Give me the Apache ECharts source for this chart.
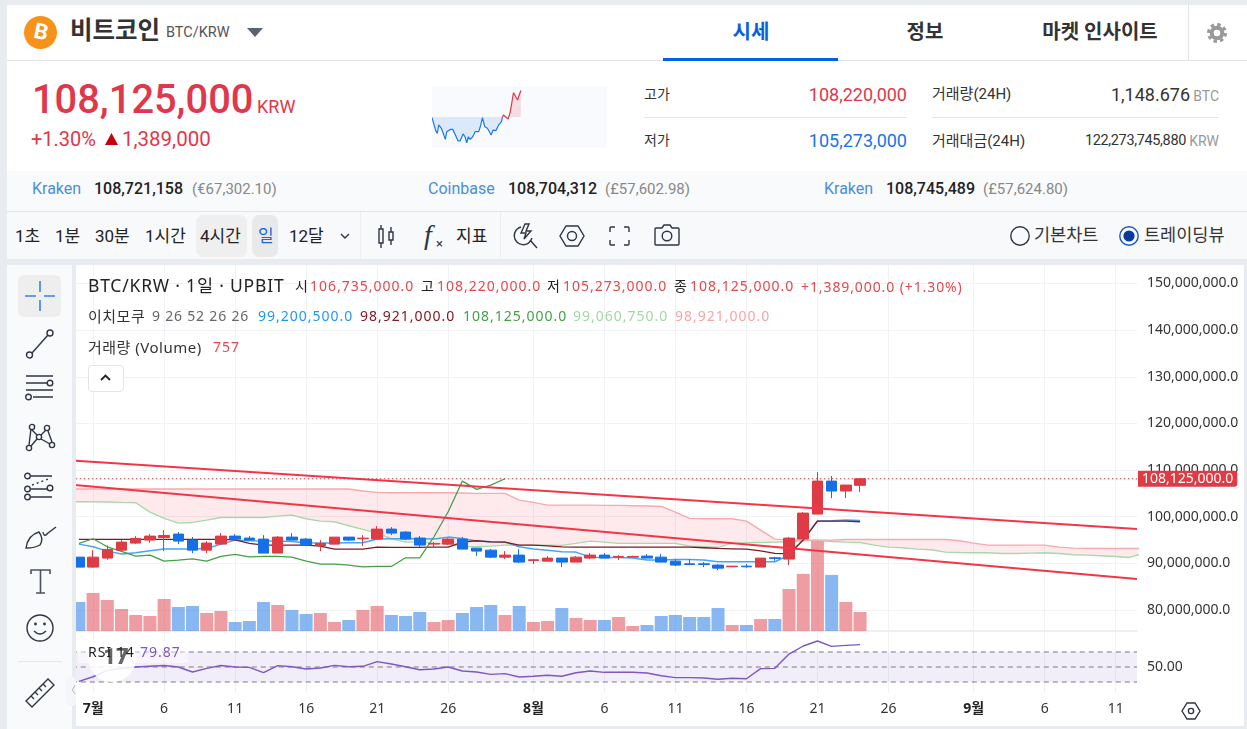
<!DOCTYPE html>
<html lang="ko"><head><meta charset="utf-8"><title>BTC/KRW</title>
<script src="https://cdn.jsdelivr.net/npm/echarts@6/dist/echarts.min.js"></script>
<style>
html,body{margin:0;padding:0;width:1247px;height:729px;overflow:hidden;background:#e8ecf1;font-family:Roboto,"Noto Sans CJK KR",sans-serif;color:#222}
.p{position:absolute}
#chart{position:absolute;left:0;top:0;width:1247px;height:729px;z-index:1}
.o{z-index:2}
.t{position:absolute;white-space:nowrap;line-height:1;transform:translateY(-50%);z-index:3}
.r{transform:translate(-100%,-50%)}
.c{transform:translate(-50%,-50%)}
.l{font-family:"Noto Sans","Noto Sans CJK KR",sans-serif;font-size:14px;letter-spacing:1px}
.k{font-size:15px;letter-spacing:.5px}
svg{position:absolute;z-index:3;overflow:visible}
svg *{fill:none;stroke:#2f3542;stroke-width:1.4}
#spark{position:absolute;left:432px;top:86px;width:175px;height:62px;z-index:3;background:#f9fafd}
</style></head><body>
<div class="p" style="left:76px;top:265px;width:1168px;height:461px;background:#fff"></div>
<div id="chart"></div>

<!-- page edges -->
<div class="p o" style="left:1244px;top:259px;width:3px;height:470px;background:#e8ecf1"></div>
<div class="p o" style="left:0;top:726px;width:1247px;height:3px;background:#e8ecf1"></div>
<div class="p o" style="left:0;top:259px;width:76px;height:470px;background:#e8ecf1"></div>
<div class="p o" style="left:7px;top:265px;width:65px;height:464px;background:#f9fafc"></div>
<div class="p o" style="left:66px;top:676px;width:10px;height:30px;background:#f4f6f9;border-radius:5px"></div>
<div class="p o" style="left:18px;top:275px;width:43px;height:42px;background:#eeeeee;border-radius:6px"></div>
<div class="p o" style="left:18px;top:661px;width:44px;height:1px;background:#e6e8ec"></div>

<!-- header panels -->
<div class="p o" style="left:7px;top:5px;width:1240px;height:55px;background:#fff"></div>
<div class="p o" style="left:7px;top:60px;width:1240px;height:1px;background:#dfe2e6"></div>
<div class="p o" style="left:7px;top:61px;width:1240px;height:110px;background:#fff"></div>
<div class="p o" style="left:7px;top:171px;width:1240px;height:40px;background:#f9fafb"></div>
<div class="p o" style="left:7px;top:211px;width:1240px;height:1px;background:#dfe2e6"></div>
<div class="p o" style="left:7px;top:212px;width:1240px;height:47px;background:#f8f9fb"></div>
<div class="p o" style="left:1188px;top:5px;width:1px;height:55px;background:#e3e5e8"></div>
<div class="p o" style="left:663px;top:58px;width:175px;height:3px;background:#0062df"></div>
<div class="p o" style="left:644px;top:117px;width:263px;height:1px;background:#e3e5e8"></div>
<div class="p o" style="left:932px;top:117px;width:287px;height:1px;background:#e3e5e8"></div>
<div class="p o" style="left:360px;top:212px;width:1px;height:47px;background:#eceef1"></div>
<div class="p o" style="left:500px;top:212px;width:1px;height:47px;background:#eceef1"></div>
<div class="p o" style="left:196px;top:215px;width:51px;height:42px;background:#efefef;border-radius:7px"></div>
<div class="p o" style="left:252px;top:215px;width:26px;height:42px;background:#e9e9ea;border-radius:7px"></div>

<!-- logo & title -->
<div class="p o" style="left:24px;top:16px;width:33px;height:33px;border-radius:50%;background:#f7931a"></div>
<div class="t c" style="left:41px;top:32px;color:#fff;font-size:22px;font-weight:700;transform:translate(-50%,-50%) rotate(12deg)">B</div>
<div class="t" style="left:70px;top:31px;font-size:24.500px;font-weight:700;color:#333">비트코인</div>
<div class="t" style="left:166px;top:33px;font-size:14.5px;color:#555">BTC/KRW</div>
<svg style="left:247px;top:28px" width="16" height="9"><path d="M0 0H16L8 9Z" style="fill:#5a6270;stroke:none"/></svg>
<div class="t c" style="left:751px;top:32px;font-size:20px;font-weight:700;color:#0a5fe0">시세</div>
<div class="t c" style="left:925px;top:32px;font-size:20px;font-weight:700;color:#333">정보</div>
<div class="t c" style="left:1100px;top:32px;font-size:20px;font-weight:700;color:#333">마켓 인사이트</div>
<svg style="left:1207px;top:23px" width="20" height="20"><circle cx="10" cy="10" r="5.300" style="stroke:#999;stroke-width:4"/><circle cx="10" cy="10" r="8.500" style="stroke:#999;stroke-width:3;stroke-dasharray:3.500 3.170"/></svg>

<!-- price -->
<div class="t" style="left:32px;top:100px;font-size:39.800px;font-weight:500;color:#e0374a">108,125,000</div>
<div class="t" style="left:257px;top:107px;font-size:18px;color:#e0374a">KRW</div>
<div class="t" style="left:31px;top:139px;font-size:20px;color:#e0374a">+1.30%</div>
<svg style="left:105px;top:133px" width="13" height="12"><path d="M6.5 0L13 12H0Z" style="fill:#c8000a;stroke:none"/></svg>
<div class="t" style="left:122px;top:139px;font-size:20.500px;color:#e0374a">1,389,000</div>
<div id="spark"></div>
<div class="t" style="left:644px;top:94px;font-size:14px;color:#333">고가</div>
<div class="t r" style="left:907px;top:95px;font-size:18px;color:#e0374a">108,220,000</div>
<div class="t" style="left:644px;top:140px;font-size:14px;color:#333">저가</div>
<div class="t r" style="left:907px;top:141px;font-size:18px;color:#1a73e8">105,273,000</div>
<div class="t" style="left:932px;top:94px;font-size:15px;color:#333">거래량(24H)</div>
<div class="t r" style="left:1190px;top:95px;font-size:18px;color:#333">1,148.676</div>
<div class="t r" style="left:1219px;top:96px;font-size:14px;color:#999">BTC</div>
<div class="t" style="left:932px;top:141px;font-size:15px;color:#333">거래대금(24H)</div>
<div class="t r" style="left:1186px;top:141px;font-size:14.5px;letter-spacing:-.35px;color:#333">122,273,745,880</div>
<div class="t r" style="left:1219px;top:141px;font-size:14px;color:#999">KRW</div>

<!-- exchanges -->
<div class="t" style="left:32px;top:189px;font-size:16px;color:#4a8fd8">Kraken</div>
<div class="t" style="left:94px;top:189px;font-size:16px;font-weight:500;color:#222">108,721,158</div>
<div class="t" style="left:192px;top:189px;font-size:15px;color:#888">(€67,302.10)</div>
<div class="t" style="left:428px;top:189px;font-size:16px;color:#4a8fd8">Coinbase</div>
<div class="t" style="left:508px;top:189px;font-size:16px;font-weight:500;color:#222">108,704,312</div>
<div class="t" style="left:605px;top:189px;font-size:15px;color:#888">(£57,602.98)</div>
<div class="t" style="left:824px;top:189px;font-size:16px;color:#4a8fd8">Kraken</div>
<div class="t" style="left:886px;top:189px;font-size:16px;font-weight:500;color:#222">108,745,489</div>
<div class="t" style="left:983px;top:189px;font-size:15px;color:#888">(£57,624.80)</div>

<!-- toolbar -->
<div class="t" style="left:15px;top:236px;font-size:17px;color:#222">1초</div>
<div class="t" style="left:55px;top:236px;font-size:17px;color:#222">1분</div>
<div class="t" style="left:95px;top:236px;font-size:17px;color:#222">30분</div>
<div class="t" style="left:145px;top:236px;font-size:17px;color:#222">1시간</div>
<div class="t" style="left:200px;top:236px;font-size:17px;color:#222">4시간</div>
<div class="t" style="left:258px;top:236px;font-size:17px;color:#1a66d9">일</div>
<div class="t" style="left:289px;top:236px;font-size:17px;color:#222">12달</div>
<svg style="left:340px;top:233px" width="10" height="6"><path d="M1 1L5 5L9 1"/></svg>
<svg style="left:376px;top:224px" width="20" height="24"><path d="M3 5H7V19H3ZM5 1V5M5 19V24M13 8H17V16H13ZM15 3V8M15 16V21"/></svg>
<div class="t" style="left:424px;top:235px;font-size:28px;font-family:'Liberation Serif';font-style:italic;color:#2f3542">f</div>
<div class="t" style="left:436px;top:243px;font-size:13px;color:#2f3542">×</div>
<div class="t" style="left:456px;top:236px;font-size:17px;color:#222">지표</div>
<svg style="left:513px;top:223px" width="24" height="26"><path d="M8 4A9 9 0 1 0 19 15M17 17L24 25M12 1L8 10H13L11 16L18 8H13L16 1Z"/></svg>
<svg style="left:559px;top:225px" width="26" height="22"><path d="M7 1H19L25 11L19 21H7L1 11Z"/><circle cx="13" cy="11" r="4.5"/></svg>
<svg style="left:609px;top:226px" width="21" height="20"><path d="M1 6V2Q1 1 2 1H6M15 1H19Q20 1 20 2V6M20 14V18Q20 19 19 19H15M6 19H2Q1 19 1 18V14"/></svg>
<svg style="left:654px;top:224px" width="26" height="22"><path d="M2 4H8L10 1H16L18 4H24Q25 4 25 5V20Q25 21 24 21H2Q1 21 1 20V5Q1 4 2 4Z"/><circle cx="13" cy="12" r="4.8"/></svg>
<svg style="left:1010px;top:226px" width="20" height="20"><circle cx="10" cy="10" r="9.2"/></svg>
<div class="t" style="left:1034px;top:236px;font-size:17.500px;color:#333">기본차트</div>
<svg style="left:1119px;top:226px" width="20" height="20"><circle cx="10" cy="10" r="9.2" style="stroke:#1a56c4"/><circle cx="10" cy="10" r="5.6" style="fill:#0a3a9a;stroke:none"/></svg>
<div class="t" style="left:1144px;top:236px;font-size:17.500px;color:#333">트레이딩뷰</div>

<!-- left tools -->
<svg style="left:25px;top:281px" width="30" height="30"><path d="M15 0V11M15 19V30M0 15H11M19 15H30" style="stroke:#3b82e6;stroke-width:1.6"/></svg>
<svg style="left:26px;top:329px" width="28" height="30"><circle cx="3.5" cy="26" r="3"/><circle cx="24" cy="4" r="3"/><path d="M6 24L22 6"/></svg>
<svg style="left:24px;top:375px" width="31" height="28"><path d="M2 1H29M2 8H23M2 15H29M9 22H29"/><circle cx="26" cy="8" r="2.8"/><circle cx="4.5" cy="22" r="2.8"/></svg>
<svg style="left:26px;top:424px" width="29" height="28"><circle cx="6" cy="3" r="2.6"/><circle cx="21" cy="4" r="2.6"/><circle cx="13" cy="13" r="2.6"/><circle cx="3" cy="24" r="2.6"/><circle cx="26" cy="21" r="2.6"/><path d="M5 5L3 21M6 6L11 11M15 11L20 6M22 7L26 18M5 22L11 15M15 15L24 20"/></svg>
<svg style="left:24px;top:473px" width="31" height="28"><circle cx="3.5" cy="3" r="2.8"/><circle cx="3.5" cy="16" r="2.8"/><circle cx="3.5" cy="24" r="2.8"/><circle cx="26" cy="15" r="2.8"/><path d="M7 3H28M7 16H23M7 24H28"/><path d="M8 12L27 5" style="stroke-dasharray:2 3"/></svg>
<svg style="left:25px;top:523px" width="32" height="26"><path d="M1 25Q3 12 14 9Q19 16 15 22Q10 25 1 25ZM18 9Q19 15 23 10L31 4"/></svg>
<svg style="left:31px;top:569px" width="20" height="25"><path d="M0 5V1H19V5M9.500 1V24M5 24H14" style="stroke:#4a5160;stroke-width:1.6"/></svg>
<svg style="left:26px;top:614px" width="28" height="28"><circle cx="14" cy="14" r="13"/><path d="M8 17Q14 23 20 17"/><circle cx="9.500" cy="10" r=".7"/><circle cx="18.500" cy="10" r=".7"/></svg>
<svg style="left:25px;top:678px" width="30" height="30"><path d="M1 23L23 1L29 7L7 29ZM6 18L9 21M10 14L13 17M14 10L17 13M18 6L21 9"/></svg>
<div class="t c" style="left:71px;top:691px;font-size:10px;color:#aaa">〈</div>

<!-- chart legend -->
<div class="t" style="left:88px;top:286px;font-size:17.500px;letter-spacing:.8px;font-family:'Noto Sans','Noto Sans CJK KR';color:#222">BTC/KRW · 1일 · UPBIT</div>
<div class="t l" style="left:295px;top:286px">시</div><div class="t l" style="left:310px;top:286px;color:#e5484d">106,735,000.0</div>
<div class="t l" style="left:421px;top:286px">고</div><div class="t l" style="left:437px;top:286px;color:#e5484d">108,220,000.0</div>
<div class="t l" style="left:547px;top:286px">저</div><div class="t l" style="left:563px;top:286px;color:#e5484d">105,273,000.0</div>
<div class="t l" style="left:674px;top:286px">종</div><div class="t l" style="left:690px;top:286px;color:#e5484d">108,125,000.0</div>
<div class="t l" style="left:801px;top:287px;color:#e5484d;letter-spacing:.9px">+1,389,000.0 (+1.30%)</div>
<div class="t l k" style="left:88px;top:316px;color:#333">이치모쿠</div>
<div class="t l" style="left:152px;top:316px;color:#666;letter-spacing:.8px">9 26 52 26 26</div>
<div class="t l" style="left:258px;top:316px;color:#2196f3">99,200,500.0</div>
<div class="t l" style="left:360px;top:316px;color:#801922">98,921,000.0</div>
<div class="t l" style="left:463px;top:316px;color:#43a047">108,125,000.0</div>
<div class="t l" style="left:573px;top:316px;color:#a5d6a7">99,060,750.0</div>
<div class="t l" style="left:675px;top:316px;color:#f7a5a5">98,921,000.0</div>
<div class="t l k" style="left:88px;top:347px;color:#333">거래량 (Volume)</div>
<div class="t l" style="left:213px;top:347px;color:#e5484d">757</div>
<div class="p" style="z-index:3;left:88px;top:365px;width:34px;height:25px;border:1px solid #e2e4e8;border-radius:4px;background:#fff"></div>
<svg style="left:100px;top:374px" width="11" height="7"><path d="M1 6L5.500 1.500L10 6" style="stroke:#222;stroke-width:1.8"/></svg>

<!-- RSI legend & watermark -->
<div class="p" style="z-index:2;left:78px;top:641px;width:110px;height:22px;background:rgba(255,255,255,.45)"></div>
<div class="p" style="z-index:2;left:88px;top:634px;width:48px;height:48px;border-radius:50%;background:rgba(255,255,255,.88)"></div>
<div class="t c" style="left:116px;top:657px;font-size:22px;font-weight:900;color:#666">17</div>
<div class="t l" style="left:88px;top:652px;color:#222">RSI 14</div>
<div class="t l" style="left:140px;top:652px;color:#7e57c2">79.87</div>
<svg style="left:1182px;top:702px" width="18" height="18"><path d="M5 1H13L18 9L13 17H5L0 9Z"/><circle cx="9" cy="9" r="2.6"/></svg>

<script>
// Trading days, first visible bar = 30 June
const categories = ['6/30','7/1','7/2','7/3','7/4','7/5','7/6','7/7','7/8','7/9','7/10','7/11','7/12','7/13','7/14','7/15','7/16','7/17','7/18','7/19','7/20','7/21','7/22','7/23','7/24','7/25','7/26','7/27','7/28','7/29','7/30','7/31','8/1','8/2','8/3','8/4','8/5','8/6','8/7','8/8','8/9','8/10','8/11','8/12','8/13','8/14','8/15','8/16','8/17','8/18','8/19','8/20','8/21','8/22','8/23','8/24','8/25','8/26','8/27','8/28','8/29','8/30','8/31','9/1','9/2','9/3','9/4','9/5','9/6','9/7','9/8','9/9','9/10','9/11','9/12'];
const tickDays = ['1','6','11','16','21','26'];
const priceTicks = [80,90,100,110,120,130,140,150];
const rsiTicks = [50];
const rsiLevels = [30,50,70];

// Prices in million KRW
const opens  = [91.33,89.19,91.12,92.83,94.34,94.98,95.55,96.27,94.98,92.83,94.12,95.84,95.41,95.2,92.19,95.62,95.2,93.84,94.12,95.62,95.27,95.2,97.34,96.7,95.41,94.12,94.12,95.2,93.26,92.83,91.33,91.76,90.62,90.47,91.12,90.26,91.12,91.76,91.33,91.33,91.55,91.33,90.47,89.9,89.9,89.62,89.26,89.4,89.19,91.19,90.91,95.2,100.56,107.64,105.5,106.735];
const closes = [89.19,91.33,92.98,94.55,95.34,95.84,95.98,94.77,92.83,94.34,95.84,95.2,94.98,92.19,95.62,94.98,93.91,94.27,95.62,94.98,95.41,97.34,96.48,95.2,93.91,94.27,95.2,93.05,92.62,91.33,91.76,90.26,90.76,91.12,90.26,91.33,91.76,91.12,91.48,91.48,91.12,90.26,89.62,89.76,89.76,88.97,89.4,89.26,91.12,91.05,95.41,100.77,107.64,105.5,106.78,108.125];
const lows   = [89.19,89.04,90.76,92.62,94.12,94.41,92.62,94.12,92.19,92.19,94.12,95.2,94.91,92.19,92.19,94.98,93.69,92.62,94.12,94.77,93.69,95.2,96.05,94.98,93.48,93.48,93.91,93.05,91.62,91.12,90.91,90.05,89.83,90.47,89.19,90.26,90.91,91.12,90.69,91.26,91.12,90.26,89.4,89.62,89.19,88.54,89.26,89.04,89.19,90.55,89.62,95.2,100.56,103.99,103.99,105.273];
const highs  = [91.33,92.83,93.84,94.98,95.84,96.27,97.13,96.7,95.62,94.77,96.48,96.27,95.84,96.05,95.84,96.48,95.41,94.98,95.62,95.62,96.05,97.99,97.77,96.91,95.84,94.55,95.41,95.62,93.26,93.05,92.62,93.05,90.91,91.55,91.12,91.55,92.19,92.19,91.76,91.62,91.98,91.98,90.91,90.91,90.26,89.83,89.4,89.83,91.12,91.4,95.62,100.99,109.57,108.71,106.78,108.22];
const volumes = [1155,1514,1235,876,637,598,1275,956,996,717,797,359,398,1155,1036,837,677,717,359,438,837,996,637,598,757,359,438,717,956,1036,637,996,359,398,916,518,438,438,558,199,239,598,637,558,558,916,239,239,478,478,1673,2271,3625,2231,1155,757];
const lastClose = 108.125;

// Ichimoku lines
const tenkan = [94.12,93.55,92.62,91.98,92.26,92.69,93.05,93.05,93.05,93.19,94.12,94.98,94.84,94.77,94.77,94.69,94.41,94.34,94.34,94.41,94.41,95.2,95.27,95.27,95.34,95.2,95.62,95.34,94.77,94.62,94.55,93.55,93.05,92.83,92.48,92.41,91.33,91.26,91.26,91.12,90.69,90.69,90.83,90.83,90.69,90.33,90.33,90.33,90.33,90.33,91.76,95.12,99.06,99.13,99.27,99.2];
const kijun = [95.12,95.12,95.12,95.12,95.12,95.12,95.12,95.12,95.12,95.12,95.12,95.05,94.27,93.91,93.91,93.91,93.91,93.69,93.05,93.05,93.05,93.48,93.41,93.41,93.41,93.48,93.48,94.55,94.84,94.62,94.55,93.91,93.91,93.76,93.55,93.48,93.48,93.48,93.48,93.48,93.48,93.48,93.48,93.48,93.34,93.19,93.12,93.05,92.69,92.12,92.05,94.98,99.06,99.06,99.06,98.92];
const chikou = [94.27,95.27,93.55,92.55,91.55,91.76,90.47,90.69,90.97,90.47,91.48,91.91,91.4,91.48,91.48,91.33,90.47,89.83,89.83,89.62,89.26,89.33,89.33,91.19,91.19,95.7,101.06,107.64,105.85,106.78,108.13];
// Cloud spans run from one slot before the first bar to one slot past the last
const senkouA = [103.21,103.21,103.21,103.14,103.06,102.99,100.99,99.63,98.63,98.77,99.27,99.84,99.84,99.84,99.84,100.13,100.35,99.56,99.06,98.91,98.06,97.27,96.48,95.27,94.55,94.55,94.27,94.12,93.62,93.55,93.69,93.91,93.91,93.91,93.91,93.84,94.27,94.77,94.55,94.27,94.27,94.27,94.27,94.27,93.69,93.55,93.41,94.27,94.41,94.48,94.55,94.62,94.84,94.98,94.69,94.55,94.48,93.91,93.48,93.34,93.05,92.91,92.41,92.33,92.26,92.26,92.12,92.12,92.19,92.26,92.12,91.83,91.76,91.62,91.48,91.26,92.26];
const senkouB = [105.93,105.93,105.93,105.93,105.93,105.93,105.93,105.93,105.93,105.93,105.93,105.93,105.93,105.93,105.93,105.93,105.93,105.93,105.93,105.93,105.93,105.5,105.21,105.14,105.14,105.14,105.14,105.14,105.07,105.0,105.0,105.0,103.56,103.06,102.49,102.49,102.49,102.49,102.42,102.42,102.35,102.28,102.2,100.99,99.63,99.56,99.56,99.56,99.06,97.13,95.2,94.98,94.98,94.98,94.98,95.12,95.12,95.12,95.12,95.12,95.12,95.12,95.12,94.84,94.34,93.91,93.91,93.91,93.91,93.91,93.48,93.26,93.19,93.19,93.19,93.19,93.19];

// Two drawn trend lines: [bar slot, price]
const trendUpper = [[-0.5,112.06],[74.5,97.38]];
const trendLower = [[-0.5,106.87],[74.5,86.65]];

const rsi = [30.9,37,45.5,48,50,51,52,50,43.3,48.2,52,50,49.5,42.4,51.8,50.4,47.3,48.7,52.2,50.4,50.9,57.1,54,50.4,46.4,47.3,50,44.7,43.3,40.2,41.1,36.7,37.6,38.9,37.6,42.4,44.7,42.9,42.9,42.9,42,38.4,35.8,35.8,35.3,33.6,34.9,34.4,47.8,48.2,67.3,78,84.7,77.5,78.9,79.87];

// Mini chart: hours into the day and price (million KRW)
const sparkHours = [0,.23,.5,.73,.92,1.28,1.51,1.83,2.02,2.29,2.56,2.84,3.21,3.57,3.85,4.26,4.53,4.76,4.99,5.22,5.59,5.91,6.41,6.69,6.92,7.24,7.6,7.83,8.11,8.38,8.75,9.16,9.53,9.66,9.8,10.03,10.44,10.72,10.99,11.18,11.45,11.73,12.18];
const sparkPrices = [106.70,106.37,105.96,105.80,106.28,106.09,105.84,105.46,105.90,105.96,106.03,106.03,105.71,105.37,105.37,105.77,105.61,105.27,105.61,105.46,105.61,105.90,105.90,106.28,106.70,106.18,106.09,106.13,105.71,105.99,105.96,106.28,106.47,106.735,106.85,106.95,106.62,107.0,107.10,108.12,108.05,107.70,108.24];
const sparkOpen = 106.735;

const RED='#de3b45', BLUE='#1470e6', FONT='"Noto Sans","Noto Sans CJK KR",sans-serif';
const GRIDLINE='#f0f2f5';
const fmtPrice=v=>(v*1e6).toLocaleString('en-US')+'.0';
const tickFn=(i,v)=>tickDays.includes(String(v).split('/')[1]);
const fmtX=v=>{const [m,d]=v.split('/');return d==='1'?'{m|'+m+'월}':d;};
const plotLeft=71.8, plotW=1065.2;
const spanEnds=[-0.5,74.5];

const line=(name,data,color,xi,z,w)=>({name,type:'line',data,xAxisIndex:xi,yAxisIndex:0,symbol:'none',z,silent:true,animation:false,lineStyle:{color,width:w||1.4}});
const slots=a=>a.map((v,i)=>[i-1,v]);

const chart=echarts.init(document.getElementById('chart'),null,{renderer:'canvas'});
chart.setOption({
  animation:false,
  backgroundColor:'transparent',
  grid:[{left:plotLeft,top:265,width:plotW,height:366},{left:plotLeft,top:631,width:plotW,height:62}],
  xAxis:[
    {type:'category',gridIndex:0,data:categories,boundaryGap:true,
     axisLine:{show:true,lineStyle:{color:'#e8ebf0',width:1.5}},axisTick:{show:false},axisLabel:{show:false},
     splitLine:{show:true,interval:tickFn,alignWithLabel:true,lineStyle:{color:GRIDLINE}}},
    {type:'value',gridIndex:0,min:-0.5,max:74.5,show:false},
    {type:'category',gridIndex:1,data:categories,boundaryGap:true,
     axisLine:{show:false},axisTick:{show:false},
     axisLabel:{interval:tickFn,formatter:fmtX,margin:9,fontFamily:FONT,fontSize:14,color:'#333',rich:{m:{fontFamily:FONT,fontSize:14,fontWeight:'bold',color:'#222'}}},
     splitLine:{show:true,interval:tickFn,alignWithLabel:true,lineStyle:{color:GRIDLINE}}},
    {type:'value',gridIndex:1,min:-0.5,max:74.5,show:false}
  ],
  yAxis:[
    {type:'value',gridIndex:0,position:'right',min:75.49,max:153.97,
     axisLine:{show:false},axisTick:{show:false,customValues:priceTicks},
     axisLabel:{customValues:priceTicks,margin:10,padding:[0,0,3,0],fontFamily:FONT,fontSize:14,color:'#333',formatter:fmtPrice},
     splitLine:{show:true,lineStyle:{color:GRIDLINE}}},
    {type:'value',gridIndex:0,position:'right',min:0,max:14567,show:false,splitLine:{show:false}},
    {type:'value',gridIndex:1,position:'right',min:15.33,max:98,
     axisLine:{show:false},axisTick:{show:false,customValues:rsiTicks},
     axisLabel:{customValues:rsiTicks,margin:10,fontFamily:FONT,fontSize:14,color:'#333',formatter:v=>v.toFixed(2)},
     splitLine:{show:false}}
  ],
  series:[
    {name:'거래량',type:'bar',xAxisIndex:0,yAxisIndex:1,barWidth:13,z:1,silent:true,
     data:volumes.map((v,i)=>({value:v,itemStyle:{color:closes[i]>=opens[i]?'rgba(222,59,69,.5)':'rgba(20,112,230,.5)'}}))},
    {name:'구름',type:'custom',xAxisIndex:1,yAxisIndex:0,z:2,silent:true,clip:true,
     data:senkouA.map((v,i)=>[i-1,v,senkouB[i]]),encode:{x:0,y:1},
     renderItem:(p,api)=>{
       if(p.dataIndex!==0) return null;
       const up=senkouB.map((v,i)=>api.coord([i-1,v]));
       const lo=senkouA.map((v,i)=>api.coord([i-1,v])).reverse();
       return {type:'polygon',shape:{points:up.concat(lo)},style:{fill:'rgba(244,67,84,.115)'}};
     }},
    line('선행스팬1',slots(senkouA),'#a9d8ab',1,3,1.4),
    line('선행스팬2',slots(senkouB),'#f7a9ad',1,3,1.4),
    line('전환선',tenkan,'#42a5f5',0,3,1.5),
    line('기준선',kijun,'#801922',0,3,1.3),
    line('후행스팬',chikou,'#43a047',0,3,1.3),
    {name:'BTC/KRW',type:'candlestick',xAxisIndex:0,yAxisIndex:0,z:4,silent:true,barWidth:11,
     data:opens.map((o,i)=>[o,closes[i],lows[i],highs[i]]),
     itemStyle:{color:RED,color0:BLUE,borderColor:RED,borderColor0:BLUE,borderWidth:1}},
    {name:'현재가',type:'line',xAxisIndex:1,yAxisIndex:0,z:6,silent:true,symbol:'none',
     data:spanEnds.map(x=>[x,lastClose]),
     lineStyle:{color:'#e5323f',type:[1.5,2.5],width:1},
     endLabel:{show:true,distance:1,formatter:()=>fmtPrice(lastClose),backgroundColor:RED,color:'#fff',fontFamily:FONT,fontSize:14,padding:[1,4,1,4],borderRadius:[0,3,3,0]}},
    line('추세선1',trendUpper,'#f23645',1,5,2),
    line('추세선2',trendLower,'#f23645',1,5,2),
    {name:'RSI 밴드',type:'line',xAxisIndex:3,yAxisIndex:2,data:[],z:1,silent:true,
     markArea:{silent:true,itemStyle:{color:'rgba(126,87,194,.1)'},data:[[{yAxis:rsiLevels[0]},{yAxis:rsiLevels[2]}]]}},
    ...rsiLevels.map(v=>({name:'RSI '+v,type:'line',xAxisIndex:3,yAxisIndex:2,z:2,silent:true,symbol:'none',
      data:spanEnds.map(x=>[x,v]),lineStyle:{color:'#787b86',type:[5,4],width:1}})),
    {name:'RSI',type:'line',xAxisIndex:2,yAxisIndex:2,data:rsi,symbol:'none',z:3,silent:true,lineStyle:{color:'#7e57c2',width:1.4}}
  ]
});

const spark=echarts.init(document.getElementById('spark'),null,{renderer:'canvas'});
const splitAt=sparkHours.indexOf(9.66);
const pairs=sparkHours.map((h,i)=>[h,sparkPrices[i]]);
const sparkSeries=(data,c,f)=>({type:'line',data,symbol:'none',silent:true,lineStyle:{color:c,width:1.2},areaStyle:{color:f,origin:sparkOpen,opacity:1}});
spark.setOption({animation:false,backgroundColor:'transparent',
  grid:{left:0,right:0,top:0,bottom:0},
  xAxis:{type:'value',min:0,max:24,show:false},
  yAxis:{type:'value',min:104.97,max:108.5,show:false},
  series:[sparkSeries(pairs.slice(0,splitAt+1),'#1a7ae8','rgba(26,122,232,.13)'),sparkSeries(pairs.slice(splitAt),'#e0374a','rgba(224,55,74,.14)')]
});
</script>
</body></html>
